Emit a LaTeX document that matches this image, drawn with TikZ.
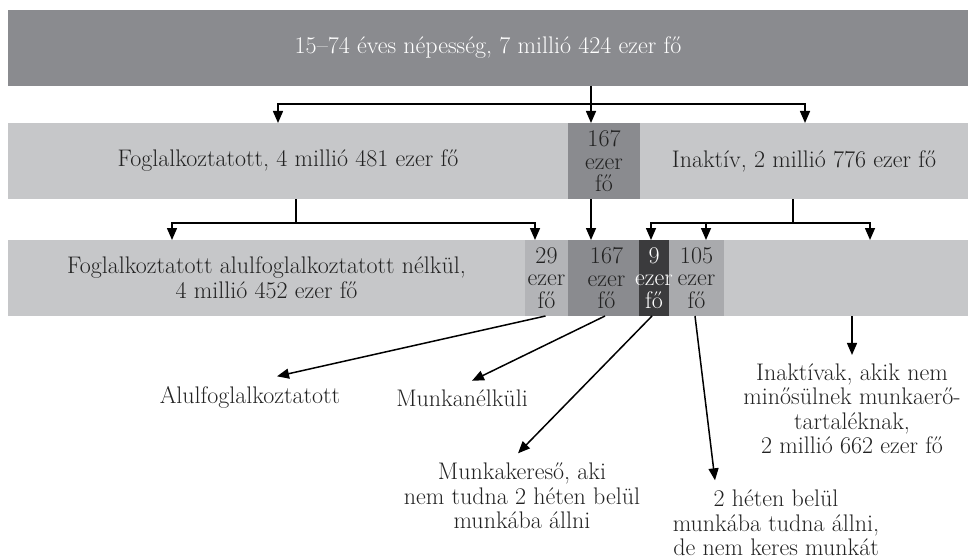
\documentclass[tikz,border=0pt]{standalone}
\usepackage{fontspec}
\usetikzlibrary{arrows.meta,positioning}
\definecolor{popgrey}{HTML}{8A8B8F}
\definecolor{lightgrey}{HTML}{C6C7C9}
\definecolor{grey29}{HTML}{B3B4B7}
\definecolor{grey105}{HTML}{A9AAAD}
\definecolor{darkbox}{HTML}{3B3B3D}
\definecolor{ink}{HTML}{222222}
\begin{document}
\begin{tikzpicture}[x=1pt,y=-1pt,>={Triangle[length=12pt,width=10pt]},line width=1.5pt]

% height of a row
\def\rh{76pt}
% styles
\tikzstyle{bar} = [
	rectangle, inner sep=0pt, outer sep=0pt, anchor=north west,
	minimum height=\rh, align=center, text=ink,
	font=\fontsize{24}{25}\selectfont ];
\tikzstyle{num} = [inner sep=0pt, align=center, text=ink,
	font=\fontsize{24}{22.5}\selectfont];
\tikzstyle{lab} = [inner sep=0pt, align=center, text=ink,
	font=\fontsize{24}{24.5}\selectfont];

\useasboundingbox (0,0) rectangle (968,559);

% first row
\node[bar,fill=popgrey,text=white,minimum width=960pt] (pop) at (8,10)
	{15--74 éves népesség, 7 millió 424 ezer fő};

% second row
\node[bar,fill=lightgrey,minimum width=560pt] (fogl) at (8,123)
	{Foglalkoztatott, 4 millió 481 ezer fő};
\node[bar,fill=popgrey,minimum width=72pt] (unemp) at (568,123) {};
\node[num] at (unemp.center) {167\\ezer\\fő};
\node[bar,fill=lightgrey,minimum width=328pt] (inakt) at (640,123)
	{Inaktív, 2 millió 776 ezer fő};

% third row
\node[bar,fill=lightgrey,minimum width=517pt] (r3a) at (8,240)
	{Foglalkoztatott alulfoglalkoztatott nélkül,\\4 millió 452 ezer fő};
\node[bar,fill=grey29,minimum width=43pt] (r3b) at (525,240) {};
\node[bar,fill=popgrey,minimum width=71pt] (r3c) at (568,240) {};
\node[bar,fill=darkbox,minimum width=30pt] (r3d) at (639,240) {};
\node[bar,fill=grey105,minimum width=55pt] (r3e) at (669,240) {};
\node[bar,fill=lightgrey,minimum width=244pt] (r3f) at (724,240) {};
\node[num] at (r3b.center) {29\\ezer\\fő};
\node[num] at ([xshift=3pt]r3c.center) {167\\ezer\\fő};
\node[num,text=white] at (r3d.center) {9\\ezer\\fő};
\node[num] at (r3e.center) {105\\ezer\\fő};

% labels
\node[lab] (alul) at (250,397) {Alulfoglalkoztatott};
\node[lab] (munkan) at (462,398) {Munkanélküli};
\node[lab] (keres) at (522,496) {Munkakereső, aki\\nem tudna 2 héten belül\\munkába állni};
\node[lab] (nemker) at (776,523) {2 héten belül\\munkába tudna állni,\\de nem keres munkát};
\node[lab] (tobbi) at (852,409) {Inaktívak, akik nem\\minősülnek munkaerő-\\tartaléknak,\\2 millió 662 ezer fő};

% first split
\coordinate (j1) at (591,104);
\draw (pop.south -| j1) -- (j1);
\draw[->] (j1) -- (j1 |- unemp.north);
\draw[->] (j1) -| (fogl.north -| 278,0);
\draw[->] (j1) -| (inakt.north -| 805,0);

% second split
\coordinate (j2) at (296,223);
\draw (fogl.south -| j2) -- (j2);
\draw[->] (j2) -| (r3a.north -| 172,0);
\draw[->] (j2) -| (r3b.north -| 535,0);
\draw[->] (unemp.south -| j1) -- (r3c.north -| j1);
\coordinate (j3) at (793,223);
\draw (inakt.south -| j3) -- (j3);
\draw[->] (j3) -| (r3d.north -| 651,0);
\draw[->] (j3) -| (r3e.north -| 706,0);
\draw[->] (j3) -| (r3f.north -| 870,0);

% down to the labels
\draw[->] ([xshift=-1pt]r3b.south) -- ([xshift=27pt,yshift=9pt]alul.north);
\draw[->] ([xshift=1.5pt]r3c.south) -- ([xshift=10pt,yshift=8pt]munkan.north);
\draw[->] ([xshift=-2pt]r3d.south) -- ([xshift=-4pt,yshift=9pt]keres.north);
\draw[->] ([xshift=-1.5pt]r3e.south) -- ([xshift=-61pt,yshift=9pt]nemker.north);
\draw[->] (r3f.south -| tobbi.north) -- ([yshift=8pt]tobbi.north);

\end{tikzpicture}
\end{document}
